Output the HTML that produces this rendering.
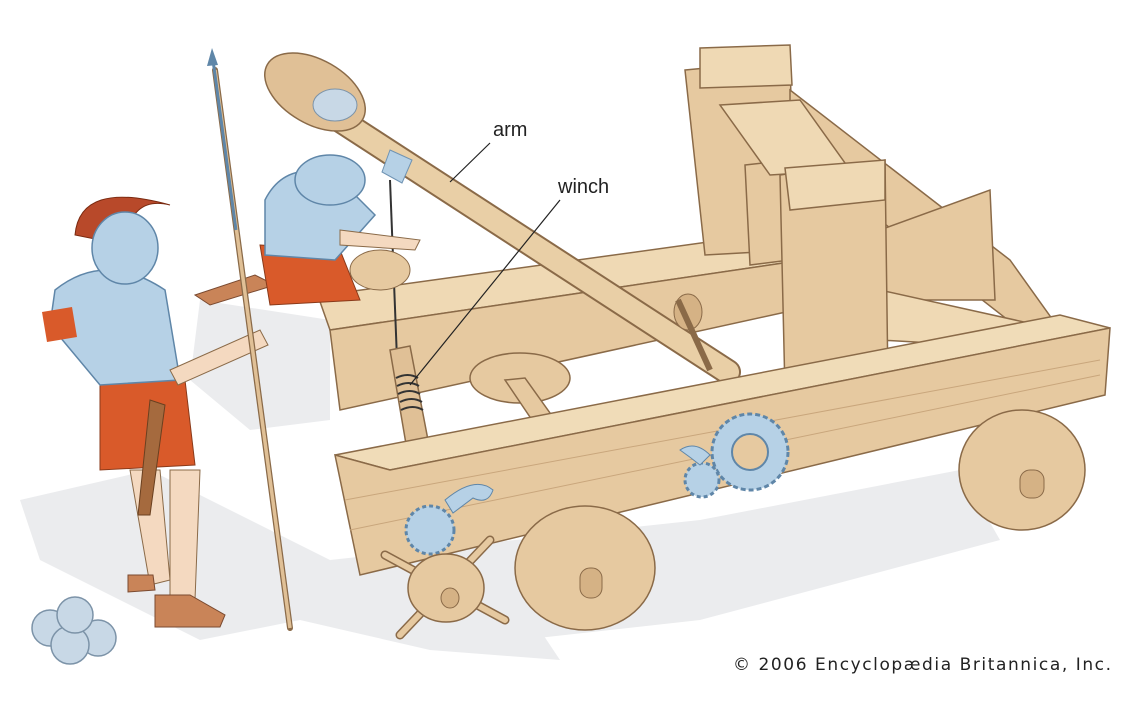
<!DOCTYPE html>
<html><head><style>
html,body{margin:0;padding:0;background:#fff;}
svg{display:block;}
</style></head><body>
<svg width="1124" height="701" viewBox="0 0 1124 701" xmlns="http://www.w3.org/2000/svg">
<rect width="1124" height="701" fill="#fff"/>
<!-- shadows -->
<g fill="#ebecee">
<path d="M20 500 L150 470 L330 560 L520 600 L560 660 L430 650 L300 620 L200 640 L120 600 L40 560 Z"/>
<path d="M200 300 L330 320 L330 420 L250 430 L190 380 Z"/>
<path d="M330 560 L700 520 L960 470 L1000 540 L700 620 L520 640 Z"/>
</g>
<!-- back beam -->
<polygon points="318,296 780,232 790,262 330,330" fill="#efd9b4" stroke="#8a6a48" stroke-width="1.5"/>
<polygon points="330,330 790,262 795,310 340,410" fill="#e6c9a0" stroke="#8a6a48" stroke-width="1.5"/>
<!-- back wheel -->
<ellipse cx="520" cy="378" rx="50" ry="25" fill="#e6c9a0" stroke="#8a6a48" stroke-width="1.5"/>
<polygon points="505,380 525,378 555,420 532,420" fill="#e6c9a0" stroke="#8a6a48" stroke-width="1.5"/>
<!-- back posts -->
<polygon points="685,70 790,60 795,250 705,255" fill="#e6c9a0" stroke="#8a6a48" stroke-width="1.5"/>
<polygon points="700,48 790,45 792,85 700,88" fill="#efd9b4" stroke="#8a6a48" stroke-width="1.5"/>
<!-- braces -->
<polygon points="790,90 1010,260 1060,330 1040,345 790,150" fill="#e6c9a0" stroke="#8a6a48" stroke-width="1.5"/>
<polygon points="880,230 990,190 995,300 880,300" fill="#e6c9a0" stroke="#8a6a48" stroke-width="1.5"/>
<polygon points="880,290 1060,330 1055,350 880,340" fill="#efd9b4" stroke="#8a6a48" stroke-width="1.5"/>
<!-- upright front -->
<polygon points="745,165 790,160 790,260 750,265" fill="#e6c9a0" stroke="#8a6a48" stroke-width="1.5"/>
<polygon points="780,175 885,160 888,385 785,392" fill="#e6c9a0" stroke="#8a6a48" stroke-width="1.5"/>
<polygon points="720,105 800,100 850,170 770,175" fill="#efd9b4" stroke="#8a6a48" stroke-width="1.5"/>
<polygon points="785,168 885,160 885,200 790,210" fill="#efd9b4" stroke="#8a6a48" stroke-width="1.5"/>
<!-- arm -->
<line x1="340" y1="120" x2="728" y2="372" stroke="#8a6a48" stroke-width="26" stroke-linecap="round"/>
<line x1="340" y1="120" x2="728" y2="372" stroke="#e9cfa6" stroke-width="22" stroke-linecap="round"/>
<ellipse cx="315" cy="92" rx="55" ry="32" transform="rotate(30 315 92)" fill="#e0c096" stroke="#8a6a48" stroke-width="1.5"/>
<ellipse cx="335" cy="105" rx="22" ry="16" fill="#c8d8e6" stroke="#7c93a8"/>
<polygon points="390,150 412,160 402,183 382,172" fill="#b6d1e6" stroke="#6f93b3"/>
<ellipse cx="688" cy="312" rx="14" ry="18" fill="#d5b285" stroke="#8a6a48"/>
<path d="M678 300 L710 370" stroke="#8a6a48" stroke-width="6"/>
<!-- winch rope -->
<line x1="390" y1="180" x2="398" y2="385" stroke="#333" stroke-width="2"/>
<polygon points="390,350 410,346 428,440 406,444" fill="#e0c096" stroke="#8a6a48" stroke-width="1.5"/>
<g stroke="#333" stroke-width="2" fill="none">
<path d="M396 378 q12 -6 22 0 M397 386 q12 -6 22 0 M398 394 q12 -6 22 0 M400 402 q12 -6 22 0 M401 410 q12 -6 22 0"/>
</g>
<!-- front beam -->
<polygon points="335,455 1060,315 1110,328 390,470" fill="#f0dcb8" stroke="#8a6a48" stroke-width="1.5"/>
<polygon points="335,455 390,470 1110,328 1105,395 360,575" fill="#e6c9a0" stroke="#8a6a48" stroke-width="1.5"/>
<g stroke="#c9a67c" stroke-width="1"><line x1="345" y1="500" x2="1100" y2="360"/><line x1="350" y1="530" x2="1100" y2="375"/></g>
<!-- gears -->
<circle cx="750" cy="452" r="38" fill="#b6d1e6" stroke="#5f86a8" stroke-width="3" stroke-dasharray="5 3"/>
<circle cx="750" cy="452" r="18" fill="#e6c9a0" stroke="#5f86a8" stroke-width="2"/>
<circle cx="702" cy="480" r="17" fill="#b6d1e6" stroke="#5f86a8" stroke-width="3" stroke-dasharray="4 3"/>
<path d="M680 450 q15 -10 30 5 l-10 10 q-10 -8 -20 -15z" fill="#b6d1e6" stroke="#5f86a8"/>
<!-- ratchet -->
<circle cx="430" cy="530" r="24" fill="#b6d1e6" stroke="#5f86a8" stroke-width="3" stroke-dasharray="4 3"/>
<path d="M445 500 q30 -25 48 -10 q-5 15 -20 8 l-20 15z" fill="#b6d1e6" stroke="#5f86a8"/>
<!-- spoke wheel -->
<g stroke="#8a6a48" stroke-width="9" stroke-linecap="round"><line x1="385" y1="555" x2="505" y2="620"/><line x1="490" y1="540" x2="400" y2="635"/></g>
<g stroke="#e6c9a0" stroke-width="6" stroke-linecap="round"><line x1="385" y1="555" x2="505" y2="620"/><line x1="490" y1="540" x2="400" y2="635"/></g>
<ellipse cx="446" cy="588" rx="38" ry="34" fill="#e6c9a0" stroke="#8a6a48" stroke-width="1.5"/>
<ellipse cx="450" cy="598" rx="9" ry="10" fill="#d5b285" stroke="#8a6a48"/>
<!-- front wheel -->
<ellipse cx="585" cy="568" rx="70" ry="62" fill="#e6c9a0" stroke="#8a6a48" stroke-width="1.5"/>
<rect x="580" y="568" width="22" height="30" rx="10" fill="#d5b285" stroke="#8a6a48"/>
<!-- right wheel -->
<ellipse cx="1022" cy="470" rx="63" ry="60" fill="#e6c9a0" stroke="#8a6a48" stroke-width="1.5"/>
<rect x="1020" y="470" width="24" height="28" rx="10" fill="#d5b285" stroke="#8a6a48"/>
<!-- sitting soldier -->
<path d="M195 295 l60 -20 l20 10 l-65 20z" fill="#c98458" stroke="#7a4a30"/>
<path d="M260 245 l80 5 l20 50 l-90 5z" fill="#d95a2a" stroke="#8a3a1a"/>
<path d="M265 200 q20 -40 70 -25 l40 40 l-40 45 l-70 -5z" fill="#b6d1e6" stroke="#5f86a8" stroke-width="1.5"/>
<ellipse cx="330" cy="180" rx="35" ry="25" fill="#b6d1e6" stroke="#5f86a8" stroke-width="1.5"/>
<ellipse cx="380" cy="270" rx="30" ry="20" fill="#e6c9a0" stroke="#8a6a48"/>
<path d="M340 230 l80 10 l-5 10 l-75 -5z" fill="#f4d9c0" stroke="#8a6a48"/>
<!-- standing soldier -->
<path d="M130 470 l30 0 l10 110 l-20 5z M170 470 l30 0 l-5 130 l-25 0z" fill="#f4d9c0" stroke="#8a6a48"/>
<path d="M128 575 l25 0 l2 15 l-27 2z" fill="#c98458" stroke="#7a4a30"/>
<path d="M155 595 l35 0 l35 20 l-5 12 l-65 0z" fill="#c98458" stroke="#7a4a30"/>
<path d="M100 360 l85 20 l10 85 l-95 5z" fill="#d95a2a" stroke="#8a3a1a"/>
<path d="M55 290 q50 -40 110 0 l15 90 l-80 5 l-50 -60z" fill="#b6d1e6" stroke="#5f86a8" stroke-width="1.5"/>
<path d="M42 312 l30 -5 l5 30 l-30 5z" fill="#d95a2a"/>
<path d="M170 370 l90 -40 l8 15 l-90 40z" fill="#f4d9c0" stroke="#8a6a48"/>
<path d="M75 235 q5 -55 95 -30 q-40 -10 -45 40z" fill="#b8492a" stroke="#7a2a10"/>
<ellipse cx="125" cy="248" rx="33" ry="36" fill="#b6d1e6" stroke="#5f86a8" stroke-width="1.5"/>
<path d="M150 400 l15 5 l-15 110 l-12 0z" fill="#a56a3e" stroke="#6a4020"/>
<!-- spear -->
<line x1="215" y1="70" x2="290" y2="628" stroke="#8a6a48" stroke-width="6" stroke-linecap="round"/>
<line x1="215" y1="70" x2="290" y2="628" stroke="#e0c096" stroke-width="3.5"/>
<line x1="213" y1="60" x2="236" y2="230" stroke="#5f86a8" stroke-width="3"/>
<polygon points="212,48 218,65 207,66" fill="#5f86a8"/>
<!-- cannonballs -->
<g fill="#c8d8e6" stroke="#7c93a8" stroke-width="1.5">
<circle cx="50" cy="628" r="18"/><circle cx="98" cy="638" r="18"/><circle cx="70" cy="645" r="19"/><circle cx="75" cy="615" r="18"/>
</g>
<!-- label leaders -->
<line x1="490" y1="143" x2="450" y2="182" stroke="#222" stroke-width="1.2"/>
<line x1="560" y1="200" x2="410" y2="385" stroke="#222" stroke-width="1.2"/>
<text x="493" y="136" font-family="Liberation Sans, sans-serif" font-size="20" fill="#222">arm</text>
<text x="558" y="193" font-family="Liberation Sans, sans-serif" font-size="20" fill="#222">winch</text>
<text x="733" y="670" font-family="DejaVu Sans, sans-serif" font-size="17" fill="#222" textLength="378" lengthAdjust="spacing">© 2006 Encyclopædia Britannica, Inc.</text>
</svg>
</body></html>
